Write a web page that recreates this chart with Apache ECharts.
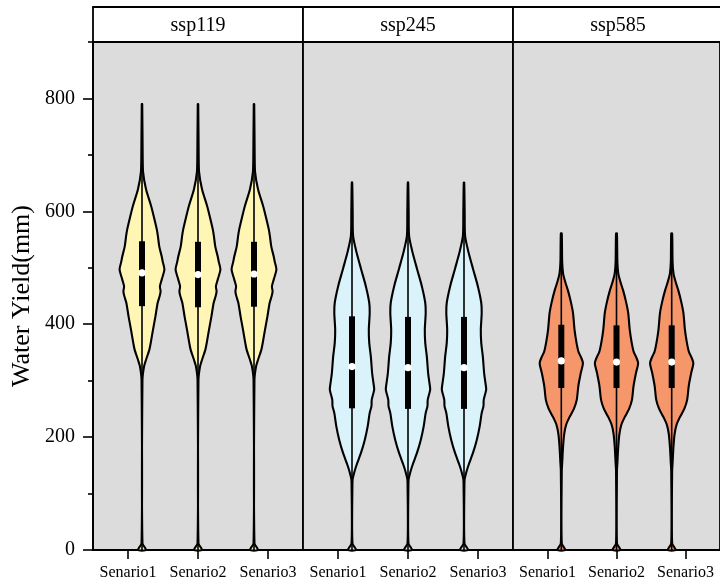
<!DOCTYPE html>
<html>
<head>
<meta charset="utf-8">
<script src="https://cdn.jsdelivr.net/npm/echarts@6/dist/echarts.min.js"></script>
<style>html,body{margin:0;padding:0;background:#fff;}#c{width:720px;height:585px;}</style>
</head>
<body>
<div id="c"></div>
<script>
// ---- data ----
const categories = ['Senario1', 'Senario2', 'Senario3'];
const panels = ['ssp119', 'ssp245', 'ssp585'];
const violinX = [1.2, 2, 2.8];
const yMajorTicks = [0, 200, 400, 600, 800];
const yMinorTicks = [100, 300, 500, 700, 900];

// stats per scenario: [min, q1, median, q3, max]
const stats119 = [[0, 432, 491, 547, 792], [0, 430, 488, 546, 790], [0, 431, 489, 546, 790]];
const stats245 = [[0, 251, 325, 414, 653], [0, 250, 323, 413, 653], [0, 250, 323, 413, 647]];
const stats585 = [[0, 287, 335, 399, 562], [0, 287, 333, 398, 561], [0, 287, 333, 398, 561]];

// relative density profiles [value, density] (peak = 1)
const density119 = [[0,0.18],[12,0.02],[300,0.02],[325,0.09],[337,0.18],[355,0.33],[367,0.39],[390,0.49],[414,0.6],[438,0.7],[450,0.79],[458,0.83],[467,0.8],[479,0.88],[497,1.0],[510,0.93],[520,0.88],[538,0.77],[556,0.71],[568,0.66],[590,0.53],[609,0.41],[639,0.18],[669,0.05],[700,0.03],[790,0.01]];
const density245 = [[0,0.18],[12,0.02],[120,0.02],[128,0.04],[148,0.18],[172,0.4],[195,0.57],[219,0.7],[243,0.79],[255,0.87],[266,0.88],[284,0.99],[295,0.96],[313,0.9],[343,0.84],[367,0.77],[390,0.75],[420,0.79],[438,0.77],[467,0.62],[497,0.41],[526,0.21],[556,0.05],[600,0.03],[651,0.01]];
const density585 = [[0,0.18],[12,0.02],[140,0.02],[154,0.04],[183,0.08],[205,0.13],[222,0.22],[236,0.38],[250,0.57],[266,0.7],[290,0.77],[313,0.88],[331,0.98],[341,0.9],[351,0.78],[367,0.69],[390,0.6],[420,0.53],[440,0.43],[460,0.3],[476,0.17],[490,0.08],[510,0.04],[561,0.02]];

const fills = ['#FFF5B4', '#DAF2FA', '#F5966B'];
const allStats = [stats119, stats245, stats585];
const allDensity = [density119, density245, density585];

// ---- chart ----
const FONT = '"Liberation Serif", "Times New Roman", serif';
const gridLefts = [93, 303, 513];
const GW = 210, GTOP = 42, GH = 508, HTOP = 7;
const HALFW = 0.32; // violin half-width at peak density, in x-axis units

function makeRender(stats, density, fill) {
  return function (params, api) {
    const i = params.dataIndex;
    const x = api.value(0);
    const s = stats[i];
    const left = [], right = [];
    density.forEach(function (p) {
      left.push(api.coord([x - p[1] * HALFW, p[0]]));
      right.push(api.coord([x + p[1] * HALFW, p[0]]));
    });
    const pts = left.concat(right.reverse());
    const pMin = api.coord([x, s[0]]);
    const pMax = api.coord([x, s[4]]);
    const q1 = api.coord([x, s[1]]);
    const q3 = api.coord([x, s[3]]);
    const med = api.coord([x, s[2]]);
    return {
      type: 'group',
      children: [
        { type: 'polygon', shape: { points: pts, smooth: 0.25 }, style: { fill: fill, stroke: '#000', lineWidth: 2.1 } },
        { type: 'line', shape: { x1: pMin[0], y1: pMin[1], x2: pMax[0], y2: pMax[1] }, style: { stroke: '#000', lineWidth: 1.6 } },
        { type: 'rect', shape: { x: q3[0] - 3, y: q3[1], width: 6, height: q1[1] - q3[1] }, style: { fill: '#000' } },
        { type: 'circle', shape: { cx: med[0], cy: med[1], r: 3.6 }, style: { fill: '#fff' } }
      ]
    };
  };
}

const grids = [], xAxes = [], yAxes = [], series = [], graphics = [];
panels.forEach(function (name, k) {
  grids.push({ left: gridLefts[k], top: GTOP, width: GW, height: GH, show: true, backgroundColor: '#DCDCDC', borderColor: '#000', borderWidth: 1.8 });
  xAxes.push({
    type: 'value', gridIndex: k, min: 0.5, max: 3.5,
    axisLine: { show: true, lineStyle: { color: '#000', width: 2 } },
    axisTick: { show: true, length: 9, customValues: [1, 2, 3], lineStyle: { color: '#000', width: 1.6 } },
    axisLabel: { show: true, customValues: [1, 2, 3], margin: 15, color: '#000', fontFamily: FONT, fontSize: 16,
      formatter: function (v) { return categories[Math.round(v) - 1]; } },
    splitLine: { show: false }
  });
  yAxes.push({
    type: 'value', gridIndex: k, min: 0, max: 900, show: k === 0,
    position: 'left',
    name: k === 0 ? 'Water Yield(mm)' : '',
    nameLocation: 'middle', nameGap: 58,
    nameTextStyle: { fontFamily: FONT, fontSize: 26, color: '#000' },
    axisLine: { show: true, lineStyle: { color: '#000', width: 2 } },
    axisTick: { show: true, length: 10, customValues: yMajorTicks, lineStyle: { color: '#000', width: 1.6 } },
    axisLabel: { show: true, customValues: yMajorTicks, margin: 18, color: '#000', fontFamily: FONT, fontSize: 20 },
    splitLine: { show: false }
  });
  series.push({
    type: 'custom', xAxisIndex: k, yAxisIndex: k,
    renderItem: makeRender(allStats[k], allDensity[k], fills[k]),
    data: violinX.map(function (x, i) { return [x, allStats[k][i][2]]; }),
    z: 2
  });
  graphics.push({ type: 'rect', shape: { x: gridLefts[k], y: HTOP, width: GW, height: GTOP - HTOP }, style: { fill: '#fff', stroke: '#000', lineWidth: 1.8 } });
  graphics.push({ type: 'text', x: gridLefts[k] + GW / 2, y: (HTOP + GTOP) / 2 + 1,
    style: { text: name, fontFamily: FONT, fontSize: 20, fill: '#000', align: 'center', verticalAlign: 'middle', textAlign: 'center', textVerticalAlign: 'middle' } });
});
// minor ticks axis on first grid
yAxes.push({
  type: 'value', gridIndex: 0, min: 0, max: 900, position: 'left',
  axisLine: { show: false },
  axisTick: { show: true, length: 5, customValues: yMinorTicks, lineStyle: { color: '#000', width: 1.6 } },
  axisLabel: { show: false },
  splitLine: { show: false }
});

const chart = echarts.init(document.getElementById('c'), null, { renderer: 'canvas' });
chart.setOption({
  animation: false,
  backgroundColor: '#fff',
  grid: grids,
  xAxis: xAxes,
  yAxis: yAxes,
  series: series,
  graphic: graphics
});
</script>
</body>
</html>
